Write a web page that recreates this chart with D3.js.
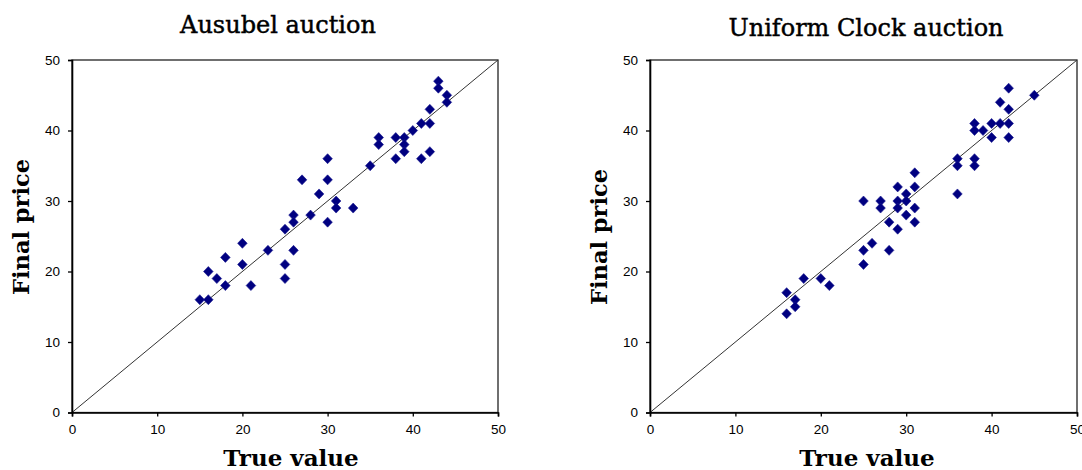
<!DOCTYPE html>
<html>
<head>
<meta charset="utf-8">
<script src="https://cdn.jsdelivr.net/npm/d3@7"></script>
<style>
  html, body { margin: 0; padding: 0; background: #fff; }
  svg { display: block; }
</style>
</head>
<body>
<svg id="chart" width="1082" height="470"></svg>
<script>
// Final price against true value, one point per auctioned item
const ausubelTrue  = [15,16,16,17,18,18,20,20,21,23,25,25,25,26,26,26,27,28,29,30,30,30,31,31,33,35,36,36,38,38,39,39,39,40,41,41,42,42,42,43,43,44,44];
const ausubelPrice = [16,16,20,19,18,22,21,24,18,23,21,19,26,28,27,23,33,28,31,36,33,27,30,29,29,35,39,38,39,36,39,38,37,40,41,36,41,43,37,47,46,45,44];

const uniformTrue  = [16,16,17,17,18,20,21,25,25,25,26,27,27,28,28,29,29,29,29,30,30,30,31,31,31,31,36,36,36,38,38,38,38,39,40,40,41,41,42,42,42,42,45];
const uniformPrice = [17,14,16,15,19,19,18,30,23,21,24,30,29,27,23,32,30,29,26,31,30,28,34,32,29,27,36,35,31,41,40,36,35,40,41,39,41,44,41,39,43,46,45];

const panelTitles = ["Ausubel auction", "Uniform Clock auction"];
const xLabel = "True value";
const yLabel = "Final price";
const axisTicks = [0, 10, 20, 30, 40, 50];
const axisDomain = [0, 50];

const svg = d3.select("#chart");
const serif = "'DejaVu Serif', 'Liberation Serif', serif";
const tickFont = "'Liberation Sans Narrow', 'Liberation Sans', Arial, sans-serif";

const panels = [
  { title: panelTitles[0], xs: ausubelTrue, ys: ausubelPrice,
    left: 72, right: 498, top: 60, bottom: 412.5, titleX: 278, titleY: 33, xLabelX: 291, yLabelY: 227 },
  { title: panelTitles[1], xs: uniformTrue, ys: uniformPrice,
    left: 650, right: 1077, top: 60, bottom: 412.5, titleX: 866, titleY: 36, xLabelX: 867, yLabelY: 237 }
];

const diamond = "M0,-5L4.8,0L0,5L-4.8,0Z";

panels.forEach(p => {
  const x = d3.scaleLinear().domain(axisDomain).range([p.left, p.right]);
  const y = d3.scaleLinear().domain(axisDomain).range([p.bottom, p.top]);
  const g = svg.append("g");

  // frame of the plot area
  g.append("rect")
    .attr("x", p.left).attr("y", p.top)
    .attr("width", p.right - p.left).attr("height", p.bottom - p.top)
    .attr("fill", "none").attr("stroke", "#222").attr("stroke-width", 1.3);

  // 45-degree reference line: price equal to value
  g.append("line")
    .attr("x1", x(axisDomain[0])).attr("y1", y(axisDomain[0]))
    .attr("x2", x(axisDomain[1])).attr("y2", y(axisDomain[1]))
    .attr("stroke", "#333").attr("stroke-width", 1);

  // axes
  const xAxis = d3.axisBottom(x).tickValues(axisTicks).tickSize(4).tickPadding(8);
  const yAxis = d3.axisLeft(y).tickValues(axisTicks).tickSize(4).tickPadding(8);

  const gx = g.append("g").attr("transform", `translate(0,${p.bottom})`).call(xAxis);
  const gy = g.append("g").attr("transform", `translate(${p.left},0)`).call(yAxis);
  [gx, gy].forEach(a => {
    a.select(".domain").attr("stroke", "#000").attr("stroke-width", 1.6);
    a.selectAll(".tick line").attr("stroke", "#000").attr("stroke-width", 1.3);
    a.selectAll(".tick text")
      .attr("fill", "#000")
      .style("font-family", tickFont)
      .style("font-size", "13.5px");
  });

  // points
  g.append("g").selectAll("path")
    .data(p.xs.map((v, i) => [v, p.ys[i]]))
    .join("path")
    .attr("d", diamond)
    .attr("transform", d => `translate(${x(d[0])},${y(d[1])})`)
    .attr("fill", "#000080")
    .attr("stroke", "#1a1a90")
    .attr("stroke-width", 0.6);

  // titles
  g.append("text")
    .attr("x", p.titleX).attr("y", p.titleY)
    .attr("text-anchor", "middle")
    .style("font-family", serif).style("font-size", "24px")
    .attr("fill", "#000").attr("stroke", "#000").attr("stroke-width", 0.45)
    .text(p.title);

  g.append("text")
    .attr("x", p.xLabelX).attr("y", 466)
    .attr("text-anchor", "middle")
    .style("font-family", serif).style("font-size", "23px").style("font-weight", "bold")
    .attr("fill", "#000")
    .text(xLabel);

  g.append("text")
    .attr("transform", `translate(${p.left - 43},${p.yLabelY}) rotate(-90)`)
    .attr("text-anchor", "middle")
    .style("font-family", serif).style("font-size", "22.5px").style("font-weight", "bold")
    .attr("fill", "#000")
    .text(yLabel);
});
</script>
</body>
</html>
